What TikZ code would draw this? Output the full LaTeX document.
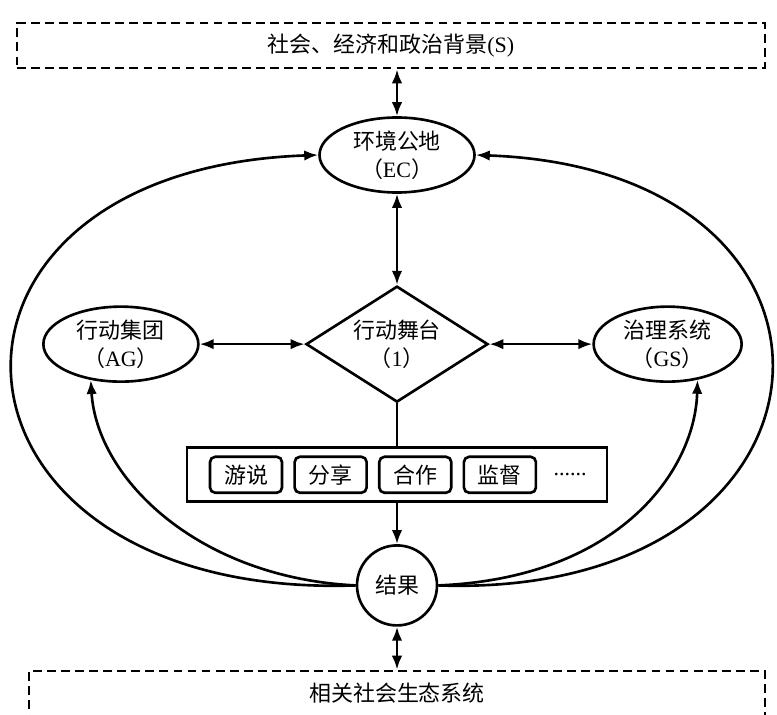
\documentclass[tikz,border=0pt]{standalone}
\usepackage{fontspec}
\setmainfont{Liberation Serif}
\newfontfamily\zh{Noto Sans CJK SC}
\usetikzlibrary{positioning,shapes.geometric,arrows.meta}

\begin{document}
\begin{tikzpicture}[
    font=\fontsize{12.5}{16}\selectfont,
    line width=1.5pt,
    frame/.style={
        draw,
        dash pattern=on 5pt off 3pt,
        minimum height=0.9cm
    },
    oval/.style={
        draw,
        ellipse,
        align=center,
        inner sep=0pt,
        minimum width=3.1cm,
        minimum height=1.5cm
    },
    stagebox/.style={
        draw,
        diamond,
        aspect=1.6,
        align=center,
        inner sep=0pt,
        minimum width=3.64cm,
        minimum height=2.32cm
    },
    actbox/.style={
        draw,
        rounded corners=3pt,
        inner sep=0pt,
        minimum width=1.44cm,
        minimum height=0.72cm,
        font=\fontsize{12.5}{15}\selectfont\zh
    },
    arrow/.style={-{Latex[length=2.8mm,width=2.1mm]}},
    twoway/.style={{Latex[length=2.8mm,width=2.1mm]}-{Latex[length=2.8mm,width=2.1mm]}}
]
\useasboundingbox (0,0) rectangle (15.54,14.28);

\node[frame, minimum width=14.96cm] (ctx) at (7.82,13.37) {{\zh 社会、经济和政治背景}(S)};
\node[oval] (ec) at (7.94,11.18) {{\zh 环境公地}\\{\zh （}EC{\zh ）}};
\node[stagebox, below=1.82cm of ec] (stage) {{\zh 行动舞台}\\{\zh （}1{\zh ）}};
\node[oval, left=2.1cm of stage] (ag) {{\zh 行动集团}\\{\zh （}AG{\zh ）}};
\node[oval, right=2.06cm of stage, minimum width=2.96cm] (gs) {{\zh 治理系统}\\{\zh （}GS{\zh ）}};

% interaction patterns
\node[draw, below=0.86cm of stage, minimum width=8.4cm, minimum height=1.08cm] (acts) {};
\node[actbox, right=0.46cm of acts.west] (lobby) {游说};
\node[actbox, right=0.2cm of lobby] (share) {分享};
\node[actbox, right=0.2cm of share] (coop) {合作};
\node[actbox, right=0.2cm of coop] (watch) {监督};
\node[right=0.3cm of watch, inner sep=0pt] (more) {......};

\node[draw, circle, below=0.82cm of acts, minimum size=1.6cm, inner sep=0pt] (out) {\zh 结果};
\node[frame, below=0.86cm of out, minimum width=14.72cm] (eco) {\zh 相关社会生态系统};

\draw[twoway] (ec.north) -- (ec.north |- ctx.south);
\draw[twoway] (ec) -- (stage);
\draw[twoway] (ag) -- (stage);
\draw[twoway] (stage) -- (gs);
\draw (stage) -- (acts);
\draw[arrow] (acts) -- (out);
\draw[twoway] (out) -- (eco);

% feedback
\draw[arrow] (out.west) .. controls (-1.6,2.28) and (-2.2,10.88) .. (ec.west);
\draw[arrow] (out.east) .. controls (17.2,2.28) and (17.8,10.88) .. (ec.east);
\draw[arrow] (out.west) .. controls (4.0,2.72) and (1.94,4.68) .. (ag.230);
\draw[arrow] (out.east) .. controls (12.4,2.72) and (13.9,4.88) .. (gs.-50);
\end{tikzpicture}
\end{document}
